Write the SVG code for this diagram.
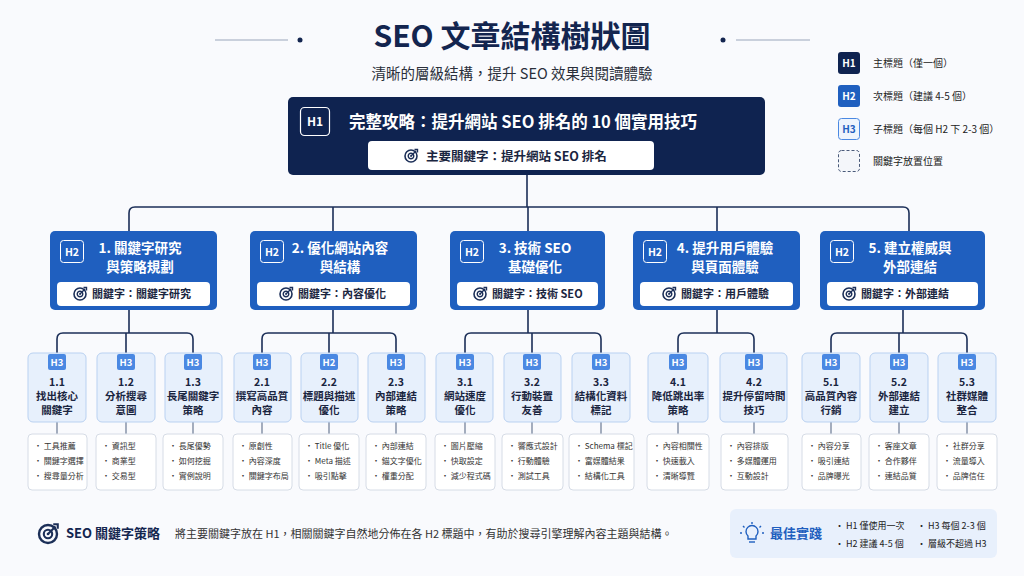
<svg xmlns="http://www.w3.org/2000/svg" width="1024" height="576" viewBox="0 0 1024 576">
<defs>
<style>
text{font-family:"Noto Sans CJK TC","Noto Sans",sans-serif;}
.c{text-anchor:middle}
.h2box{fill:#1f5fbf}
.h2t{fill:#fff;font-size:13.5px;font-weight:700}
.pill{fill:#fff}
.kw{fill:#1a2540;font-size:11px;font-weight:700}
.h3box{fill:#e7f0fc;stroke:#b9d1f1;stroke-width:1}
.badge{fill:#4a88e2}
.bt{fill:#fff;font-size:9.5px;font-weight:700}
.h3t{fill:#1a2540;font-size:10.5px;font-weight:700}
.lst{fill:#fff;stroke:#d6dce6;stroke-width:1}
.li{fill:#333;font-size:8px}
.ln{fill:none;stroke:#1c2f58;stroke-width:1.6}
.ln2{fill:none;stroke:#6a7a94;stroke-width:1.2}
</style>
<g id="tgt">
<circle r="6" fill="none" stroke="#1c2f58" stroke-width="1.6"/>
<circle r="2.8" fill="none" stroke="#1c2f58" stroke-width="1.4"/>
<circle r="0.9" fill="#1c2f58"/>
<path d="M0 0 L5 -5 M3.5 -6.5 L6.5 -6.5 L6.5 -3.5" fill="none" stroke="#1c2f58" stroke-width="1.4"/>
</g>
</defs>
<rect width="1024" height="576" fill="#f9fafd"/>

<g id="title">
<text x="512" y="47" class="c" font-size="30" font-weight="700" fill="#13254f">SEO 文章結構樹狀圖</text>
<line x1="215" y1="40" x2="288" y2="40" stroke="#9aa6bb" stroke-width="1"/>
<circle cx="300" cy="40" r="2.5" fill="#13254f"/>
<line x1="736" y1="40" x2="810" y2="40" stroke="#9aa6bb" stroke-width="1"/>
<circle cx="723" cy="40" r="2.5" fill="#13254f"/>
<text x="512" y="79" class="c" font-size="14.5" fill="#2a2f3a">清晰的層級結構，提升 SEO 效果與閱讀體驗</text>
</g>

<g id="legend">
<rect x="838" y="52" width="22" height="22" rx="3" fill="#0f2350"/>
<text x="849" y="67" class="c" font-size="10" font-weight="700" fill="#fff">H1</text>
<text x="873" y="67" font-size="10" fill="#222">主標題（僅一個）</text>
<rect x="838" y="85" width="22" height="22" rx="3" fill="#1f5fbf"/>
<text x="849" y="100" class="c" font-size="10" font-weight="700" fill="#fff">H2</text>
<text x="873" y="100" font-size="10" fill="#222">次標題（建議 4-5 個）</text>
<rect x="838.5" y="118.5" width="21" height="21" rx="3" fill="#eef4fd" stroke="#4a88e2"/>
<text x="849" y="133" class="c" font-size="10" font-weight="700" fill="#1f5fbf">H3</text>
<text x="873" y="133" font-size="10" fill="#222">子標題（每個 H2 下 2-3 個）</text>
<rect x="838.5" y="150.5" width="21" height="21" rx="3" fill="#f4f6fa" stroke="#4a5a7a" stroke-dasharray="3 2"/>
<text x="873" y="165" font-size="10" fill="#222">關鍵字放置位置</text>
</g>

<g id="connectors">
<path class="ln" d="M527 175 V207 M129 231 V213 Q129 207 135 207 H903 Q909 207 909 213 V231 M333 207 V231 M528 207 V231 M717 207 V231"/>
<path class="ln" d="M129 310 V333 M57 353 V339 Q57 333 63 333 H187 Q193 333 193 339 V353 M126 333 V353"/>
<path class="ln" d="M333 310 V333 M262 353 V339 Q262 333 268 333 H390 Q396 333 396 339 V353 M329 333 V353"/>
<path class="ln" d="M528 310 V333 M465 353 V339 Q465 333 471 333 H595 Q601 333 601 339 V353 M532 333 V353"/>
<path class="ln" d="M717 310 V333 M678 353 V339 Q678 333 684 333 H748 Q754 333 754 339 V353"/>
<path class="ln" d="M903 310 V333 M831 353 V339 Q831 333 837 333 H961 Q967 333 967 339 V353 M899 333 V353"/>
<path class="ln2" d="M57 422 V434 M126 422 V434 M193 422 V434 M262 422 V434 M329 422 V434 M396 422 V434 M465 422 V434 M532 422 V434 M601 422 V434 M678 422 V434 M754 422 V434 M831 422 V434 M899 422 V434 M967 422 V434"/>
</g>

<g id="h1">
<rect x="288" y="97" width="477" height="78" rx="5" fill="#0f2350"/>
<rect x="300.5" y="107.5" width="29" height="28" rx="4" fill="none" stroke="#fff" stroke-width="1.2"/>
<text x="315" y="126" class="c" font-size="12" font-weight="700" fill="#fff">H1</text>
<text x="349" y="128" font-size="16.5" font-weight="700" fill="#fff">完整攻略：提升網站 SEO 排名的 10 個實用技巧</text>
<rect x="368" y="141" width="286" height="29" rx="4" fill="#fff"/>
<use href="#tgt" x="411" y="156"/>
<text x="426" y="161" font-size="12.5" font-weight="700" fill="#1a2540">主要關鍵字：提升網站 SEO 排名</text>
</g>

<g id="h2-1">
<rect class="h2box" x="50" y="231" width="167" height="79" rx="5"/>
<rect x="60.5" y="240.5" width="23" height="22" rx="3" fill="none" stroke="#fff"/>
<text x="72" y="256" class="c" font-size="10.5" font-weight="700" fill="#fff">H2</text>
<text x="140" y="253" class="c h2t">1. 關鍵字研究</text>
<text x="140" y="272" class="c h2t">與策略規劃</text>
<rect class="pill" x="57" y="282" width="153" height="24" rx="4"/>
<use href="#tgt" x="80" y="294"/>
<text x="92" y="298" class="kw">關鍵字：關鍵字研究</text>
</g>
<g id="h2-2">
<rect class="h2box" x="250" y="231" width="167" height="79" rx="5"/>
<rect x="260.5" y="240.5" width="23" height="22" rx="3" fill="none" stroke="#fff"/>
<text x="272" y="256" class="c" font-size="10.5" font-weight="700" fill="#fff">H2</text>
<text x="340" y="253" class="c h2t">2. 優化網站內容</text>
<text x="340" y="272" class="c h2t">與結構</text>
<rect class="pill" x="257" y="282" width="153" height="24" rx="4"/>
<use href="#tgt" x="286" y="294"/>
<text x="298" y="298" class="kw">關鍵字：內容優化</text>
</g>
<g id="h2-3">
<rect class="h2box" x="450" y="231" width="155" height="79" rx="5"/>
<rect x="460.5" y="240.5" width="23" height="22" rx="3" fill="none" stroke="#fff"/>
<text x="472" y="256" class="c" font-size="10.5" font-weight="700" fill="#fff">H2</text>
<text x="535" y="253" class="c h2t">3. 技術 SEO</text>
<text x="535" y="272" class="c h2t">基礎優化</text>
<rect class="pill" x="457" y="282" width="141" height="24" rx="4"/>
<use href="#tgt" x="480" y="294"/>
<text x="492" y="298" class="kw">關鍵字：技術 SEO</text>
</g>
<g id="h2-4">
<rect class="h2box" x="633" y="231" width="167" height="79" rx="5"/>
<rect x="643.5" y="240.5" width="23" height="22" rx="3" fill="none" stroke="#fff"/>
<text x="655" y="256" class="c" font-size="10.5" font-weight="700" fill="#fff">H2</text>
<text x="725" y="253" class="c h2t">4. 提升用戶體驗</text>
<text x="725" y="272" class="c h2t">與頁面體驗</text>
<rect class="pill" x="640" y="282" width="153" height="24" rx="4"/>
<use href="#tgt" x="669" y="294"/>
<text x="681" y="298" class="kw">關鍵字：用戶體驗</text>
</g>
<g id="h2-5">
<rect class="h2box" x="820" y="231" width="165" height="79" rx="5"/>
<rect x="830.5" y="240.5" width="23" height="22" rx="3" fill="none" stroke="#fff"/>
<text x="842" y="256" class="c" font-size="10.5" font-weight="700" fill="#fff">H2</text>
<text x="910" y="253" class="c h2t">5. 建立權威與</text>
<text x="910" y="272" class="c h2t">外部連結</text>
<rect class="pill" x="827" y="282" width="151" height="24" rx="4"/>
<use href="#tgt" x="849" y="294"/>
<text x="861" y="298" class="kw">關鍵字：外部連結</text>
</g>

<g id="h3-1-1"><rect class="h3box" x="28" y="353" width="58" height="69" rx="5"/><rect class="badge" x="48" y="354" width="18" height="16" rx="2"/><text x="57" y="366" class="c bt">H3</text><text x="57" y="386" class="c h3t">1.1</text><text x="57" y="400" class="c h3t">找出核心</text><text x="57" y="414" class="c h3t">關鍵字</text>
<rect class="lst" x="28" y="434" width="59" height="56" rx="4"/><text x="34" y="449" class="li">• 工具推薦</text><text x="34" y="464" class="li">• 關鍵字選擇</text><text x="34" y="479" class="li">• 搜尋量分析</text></g>
<g id="h3-1-2"><rect class="h3box" x="97" y="353" width="58" height="69" rx="5"/><rect class="badge" x="117" y="354" width="18" height="16" rx="2"/><text x="126" y="366" class="c bt">H3</text><text x="126" y="386" class="c h3t">1.2</text><text x="126" y="400" class="c h3t">分析搜尋</text><text x="126" y="414" class="c h3t">意圖</text>
<rect class="lst" x="96" y="434" width="60" height="56" rx="4"/><text x="102" y="449" class="li">• 資訊型</text><text x="102" y="464" class="li">• 商業型</text><text x="102" y="479" class="li">• 交易型</text></g>
<g id="h3-1-3"><rect class="h3box" x="165" y="353" width="57" height="69" rx="5"/><rect class="badge" x="184" y="354" width="18" height="16" rx="2"/><text x="193" y="366" class="c bt">H3</text><text x="193" y="386" class="c h3t">1.3</text><text x="193" y="400" class="c h3t">長尾關鍵字</text><text x="193" y="414" class="c h3t">策略</text>
<rect class="lst" x="163" y="434" width="60" height="56" rx="4"/><text x="169" y="449" class="li">• 長尾優勢</text><text x="169" y="464" class="li">• 如何挖掘</text><text x="169" y="479" class="li">• 實例說明</text></g>
<g id="h3-2-1"><rect class="h3box" x="234" y="353" width="57" height="69" rx="5"/><rect class="badge" x="253" y="354" width="18" height="16" rx="2"/><text x="262" y="366" class="c bt">H3</text><text x="262" y="386" class="c h3t">2.1</text><text x="262" y="400" class="c h3t">撰寫高品質</text><text x="262" y="414" class="c h3t">內容</text>
<rect class="lst" x="233" y="434" width="59" height="56" rx="4"/><text x="239" y="449" class="li">• 原創性</text><text x="239" y="464" class="li">• 內容深度</text><text x="239" y="479" class="li">• 關鍵字布局</text></g>
<g id="h3-2-2"><rect class="h3box" x="301" y="353" width="57" height="69" rx="5"/><rect class="badge" x="320" y="354" width="18" height="16" rx="2"/><text x="329" y="366" class="c bt">H2</text><text x="329" y="386" class="c h3t">2.2</text><text x="329" y="400" class="c h3t">標題與描述</text><text x="329" y="414" class="c h3t">優化</text>
<rect class="lst" x="299" y="434" width="60" height="56" rx="4"/><text x="305" y="449" class="li">• Title 優化</text><text x="305" y="464" class="li">• Meta 描述</text><text x="305" y="479" class="li">• 吸引點擊</text></g>
<g id="h3-2-3"><rect class="h3box" x="368" y="353" width="57" height="69" rx="5"/><rect class="badge" x="387" y="354" width="18" height="16" rx="2"/><text x="396" y="366" class="c bt">H3</text><text x="396" y="386" class="c h3t">2.3</text><text x="396" y="400" class="c h3t">內部連結</text><text x="396" y="414" class="c h3t">策略</text>
<rect class="lst" x="366" y="434" width="60" height="56" rx="4"/><text x="372" y="449" class="li">• 內部連結</text><text x="372" y="464" class="li">• 錨文字優化</text><text x="372" y="479" class="li">• 權重分配</text></g>
<g id="h3-3-1"><rect class="h3box" x="436" y="353" width="57" height="69" rx="5"/><rect class="badge" x="456" y="354" width="18" height="16" rx="2"/><text x="465" y="366" class="c bt">H3</text><text x="465" y="386" class="c h3t">3.1</text><text x="465" y="400" class="c h3t">網站速度</text><text x="465" y="414" class="c h3t">優化</text>
<rect class="lst" x="435" y="434" width="60" height="56" rx="4"/><text x="441" y="449" class="li">• 圖片壓縮</text><text x="441" y="464" class="li">• 快取設定</text><text x="441" y="479" class="li">• 減少程式碼</text></g>
<g id="h3-3-2"><rect class="h3box" x="504" y="353" width="57" height="69" rx="5"/><rect class="badge" x="523" y="354" width="18" height="16" rx="2"/><text x="532" y="366" class="c bt">H3</text><text x="532" y="386" class="c h3t">3.2</text><text x="532" y="400" class="c h3t">行動裝置</text><text x="532" y="414" class="c h3t">友善</text>
<rect class="lst" x="502" y="434" width="61" height="56" rx="4"/><text x="508" y="449" class="li">• 響應式設計</text><text x="508" y="464" class="li">• 行動體驗</text><text x="508" y="479" class="li">• 測試工具</text></g>
<g id="h3-3-3"><rect class="h3box" x="572" y="353" width="58" height="69" rx="5"/><rect class="badge" x="592" y="354" width="18" height="16" rx="2"/><text x="601" y="366" class="c bt">H3</text><text x="601" y="386" class="c h3t">3.3</text><text x="601" y="400" class="c h3t">結構化資料</text><text x="601" y="414" class="c h3t">標記</text>
<rect class="lst" x="569" y="434" width="65" height="56" rx="4"/><text x="575" y="449" class="li">• Schema 標記</text><text x="575" y="464" class="li">• 富媒體結果</text><text x="575" y="479" class="li">• 結構化工具</text></g>
<g id="h3-4-1"><rect class="h3box" x="648" y="353" width="60" height="69" rx="5"/><rect class="badge" x="669" y="354" width="18" height="16" rx="2"/><text x="678" y="366" class="c bt">H3</text><text x="678" y="386" class="c h3t">4.1</text><text x="678" y="400" class="c h3t">降低跳出率</text><text x="678" y="414" class="c h3t">策略</text>
<rect class="lst" x="647" y="434" width="62" height="56" rx="4"/><text x="653" y="449" class="li">• 內容相關性</text><text x="653" y="464" class="li">• 快速載入</text><text x="653" y="479" class="li">• 清晰導覽</text></g>
<g id="h3-4-2"><rect class="h3box" x="720" y="353" width="67" height="69" rx="5"/><rect class="badge" x="745" y="354" width="18" height="16" rx="2"/><text x="754" y="366" class="c bt">H3</text><text x="754" y="386" class="c h3t">4.2</text><text x="754" y="400" class="c h3t">提升停留時間</text><text x="754" y="414" class="c h3t">技巧</text>
<rect class="lst" x="721" y="434" width="67" height="56" rx="4"/><text x="727" y="449" class="li">• 內容排版</text><text x="727" y="464" class="li">• 多媒體運用</text><text x="727" y="479" class="li">• 互動設計</text></g>
<g id="h3-5-1"><rect class="h3box" x="802" y="353" width="58" height="69" rx="5"/><rect class="badge" x="822" y="354" width="18" height="16" rx="2"/><text x="831" y="366" class="c bt">H3</text><text x="831" y="386" class="c h3t">5.1</text><text x="831" y="400" class="c h3t">高品質內容</text><text x="831" y="414" class="c h3t">行銷</text>
<rect class="lst" x="802" y="434" width="59" height="56" rx="4"/><text x="808" y="449" class="li">• 內容分享</text><text x="808" y="464" class="li">• 吸引連結</text><text x="808" y="479" class="li">• 品牌曝光</text></g>
<g id="h3-5-2"><rect class="h3box" x="870" y="353" width="58" height="69" rx="5"/><rect class="badge" x="890" y="354" width="18" height="16" rx="2"/><text x="899" y="366" class="c bt">H3</text><text x="899" y="386" class="c h3t">5.2</text><text x="899" y="400" class="c h3t">外部連結</text><text x="899" y="414" class="c h3t">建立</text>
<rect class="lst" x="869" y="434" width="60" height="56" rx="4"/><text x="875" y="449" class="li">• 客座文章</text><text x="875" y="464" class="li">• 合作夥伴</text><text x="875" y="479" class="li">• 連結品質</text></g>
<g id="h3-5-3"><rect class="h3box" x="938" y="353" width="58" height="69" rx="5"/><rect class="badge" x="958" y="354" width="18" height="16" rx="2"/><text x="967" y="366" class="c bt">H3</text><text x="967" y="386" class="c h3t">5.3</text><text x="967" y="400" class="c h3t">社群媒體</text><text x="967" y="414" class="c h3t">整合</text>
<rect class="lst" x="937" y="434" width="60" height="56" rx="4"/><text x="943" y="449" class="li">• 社群分享</text><text x="943" y="464" class="li">• 流量導入</text><text x="943" y="479" class="li">• 品牌信任</text></g>

<g id="footer-strategy">
<use href="#tgt" x="48" y="534" transform="translate(-24 -267) scale(1.5)"/>
<text x="66" y="538" font-size="13" font-weight="700" fill="#13254f">SEO 關鍵字策略</text>
<text x="175" y="538" font-size="11" fill="#333">將主要關鍵字放在 H1，相關關鍵字自然地分佈在各 H2 標題中，有助於搜尋引擎理解內容主題與結構。</text>
</g>
<g id="best-practice">
<rect x="730" y="509" width="267" height="49" rx="6" fill="#e8f0fc"/>
<g fill="none" stroke="#1f5fbf" stroke-width="1.4">
<path d="M748 536 a6 6 0 1 1 8 0 v3 h-8 z"/><path d="M749 542 h6"/>
<path d="M752 522 v2 M743 526 l1.5 1.5 M761 526 l-1.5 1.5 M740 533 h2 M762 533 h2"/>
</g>
<text x="770" y="538" font-size="13" font-weight="700" fill="#1f5fbf">最佳實踐</text>
<text x="835" y="529" font-size="9" fill="#222">• H1 僅使用一次</text>
<text x="835" y="547" font-size="9" fill="#222">• H2 建議 4-5 個</text>
<text x="917" y="529" font-size="9" fill="#222">• H3 每個 2-3 個</text>
<text x="917" y="547" font-size="9" fill="#222">• 層級不超過 H3</text>
</g>
</svg>
